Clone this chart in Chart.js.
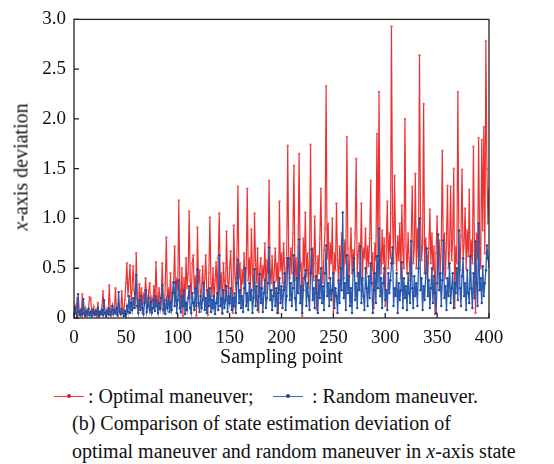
<!DOCTYPE html>
<html>
<head>
<meta charset="utf-8">
<script src="https://cdn.jsdelivr.net/npm/chart.js@4"></script>
<style>
  body { margin: 0; width: 554px; height: 464px; background: #fff; position: relative; overflow: hidden;
         font-family: "Liberation Serif", "Times New Roman", serif; color: #111; }
  #wrap { position: absolute; left: 0; top: 0; width: 554px; height: 375px; }
  #yTitle { position: absolute; left: 21px; top: 167px; transform: translate(-50%, -50%) rotate(-90deg);
            font-size: 20px; white-space: nowrap; }
  .key { position: absolute; top: 396px; width: 30px; height: 0; border-top: 1.5px solid; }
  .key span { position: absolute; left: 13px; top: -3.5px; width: 4px; height: 4px; border-radius: 50%; }
  .ltxt { position: absolute; top: 384px; font-size: 20px; line-height: 24px; white-space: nowrap; }
  #caption { position: absolute; left: 72px; top: 409px; font-size: 20px; line-height: 28px; white-space: nowrap; }
</style>
</head>
<body>
<div id="wrap"><canvas id="chart" width="554" height="375"></canvas></div>
<div id="yTitle"><i>x</i>-axis deviation</div>

<div class="key" style="left:54px; border-color:#ee3b3b;"><span style="background:#e02020"></span></div>
<div class="ltxt" style="left:88px;">: Optimal maneuver;</div>
<div class="key" style="left:273px; border-color:#3a66b8;"><span style="background:#1f4a9a"></span></div>
<div class="ltxt" style="left:312px;">: Random maneuver.</div>

<div id="caption">(b) Comparison of state estimation deviation of<br>optimal maneuver and random maneuver in <i>x</i>-axis state</div>

<script>
// x: sampling point 0..400
const samples = Array.from({ length: 401 }, (_, i) => i);

// optimal maneuver deviation (red)
const optimal = [
  0.05, 0.12, 0.04, 0.20, 0.06, 0.03, 0.08, 0.02, 0.24, 0.07,
  0.03, 0.10, 0.05, 0.02, 0.09, 0.21, 0.20, 0.06, 0.03, 0.11,
  0.04, 0.08, 0.02, 0.15, 0.05, 0.03, 0.07, 0.12, 0.27, 0.04,
  0.06, 0.02, 0.09, 0.05, 0.33, 0.08, 0.03, 0.12, 0.06, 0.10,
  0.30, 0.05, 0.02, 0.14, 0.08, 0.04, 0.27, 0.10, 0.06, 0.18,
  0.35, 0.55, 0.22, 0.38, 0.53, 0.15, 0.30, 0.52, 0.28, 0.10,
  0.65, 0.20, 0.08, 0.34, 0.12, 0.30, 0.05, 0.25, 0.18, 0.40,
  0.22, 0.10, 0.28, 0.35, 0.06, 0.20, 0.15, 0.32, 0.12, 0.56,
  0.25, 0.08, 0.30, 0.18, 0.10, 0.55, 0.22, 0.05, 0.35, 0.81,
  0.20, 0.30, 0.12, 0.45, 0.08, 0.25, 0.35, 0.72, 0.18, 0.40,
  0.28, 1.18, 0.35, 0.10, 0.50, 0.02, 0.40, 0.15, 0.60, 0.30,
  0.45, 1.07, 0.38, 0.20, 0.55, 0.63, 0.25, 0.42, 0.02, 0.91,
  0.35, 0.48, 0.15, 0.30, 0.52, 0.20, 0.40, 0.63, 0.28, 0.03,
  0.45, 1.01, 0.35, 0.22, 0.50, 0.15, 0.38, 0.56, 0.25, 0.60,
  1.05, 0.30, 0.45, 0.04, 0.55, 0.35, 0.20, 0.87, 0.40, 0.25,
  0.50, 0.67, 0.30, 0.05, 0.93, 0.45, 0.28, 0.60, 1.32, 0.40,
  0.55, 0.20, 0.48, 0.35, 0.65, 0.25, 0.50, 1.30, 0.38, 0.60,
  0.30, 0.89, 0.45, 0.22, 1.05, 0.55, 0.35, 0.70, 0.06, 0.48,
  0.60, 0.30, 0.52, 0.40, 0.75, 0.25, 0.58, 0.45, 1.38, 0.50,
  0.35, 0.62, 0.28, 0.45, 0.70, 0.38, 0.55, 0.05, 1.17, 0.48,
  0.65, 0.35, 0.75, 0.50, 0.28, 0.60, 1.73, 0.55, 0.40, 0.70,
  0.45, 0.85, 1.53, 0.38, 0.60, 0.30, 0.72, 1.65, 0.48, 0.55,
  0.02, 0.80, 0.50, 1.06, 0.42, 0.65, 0.30, 0.58, 1.74, 0.45,
  0.70, 0.38, 1.02, 0.55, 0.08, 0.62, 0.45, 0.80, 1.30, 0.50,
  0.35, 0.68, 0.90, 2.33, 0.60, 0.95, 0.40, 0.75, 0.55, 1.00,
  0.06, 0.65, 0.48, 1.15, 0.58, 0.35, 0.72, 0.45, 0.85, 0.62,
  0.40, 0.78, 0.55, 1.82, 0.70, 0.38, 0.62, 0.90, 0.45, 0.68,
  0.50, 0.85, 1.60, 0.42, 0.65, 0.75, 0.55, 1.15, 0.38, 0.70,
  0.60, 0.90, 0.45, 0.72, 0.52, 0.80, 1.38, 0.48, 0.65, 0.10,
  0.75, 0.58, 1.85, 0.62, 2.27, 0.70, 0.45, 0.88, 0.55, 0.80,
  0.12, 0.72, 1.17, 0.50, 0.85, 0.60, 2.93, 1.05, 0.55, 1.43,
  0.70, 0.48, 0.82, 0.58, 0.95, 0.40, 1.13, 0.65, 0.50, 2.00,
  0.72, 0.45, 0.85, 0.60, 0.38, 0.78, 1.32, 0.55, 0.70, 1.45,
  0.50, 0.90, 0.62, 2.64, 1.00, 0.58, 0.75, 2.15, 0.45, 0.80,
  0.62, 0.40, 0.70, 1.09, 0.55, 0.85, 0.48, 0.72, 0.04, 0.65,
  1.02, 0.55, 0.78, 0.45, 0.70, 1.68, 0.60, 0.85, 0.40, 0.75,
  1.33, 0.50, 0.68, 1.32, 0.58, 0.80, 1.50, 0.10, 0.72, 0.55,
  2.27, 0.65, 0.48, 0.82, 1.49, 0.60, 0.75, 1.10, 0.50, 0.88,
  0.62, 1.29, 0.45, 0.78, 0.55, 1.72, 0.68, 0.05, 0.85, 0.60,
  1.81, 0.72, 0.50, 1.79, 0.88, 1.92, 0.65, 2.78, 1.50, 0.95,
  1.30
];

// random maneuver deviation (blue)
const random = [
  0.03, 0.10, 0.05, 0.02, 0.24, 0.06, 0.03, 0.08, 0.04, 0.19,
  0.05, 0.02, 0.07, 0.04, 0.09, 0.03, 0.06, 0.02, 0.08, 0.05,
  0.03, 0.07, 0.04, 0.10, 0.02, 0.06, 0.04, 0.08, 0.03, 0.18,
  0.05, 0.02, 0.07, 0.04, 0.09, 0.03, 0.06, 0.12, 0.04, 0.08,
  0.05, 0.10, 0.03, 0.26, 0.06, 0.04, 0.09, 0.05, 0.02, 0.07,
  0.04, 0.12, 0.06, 0.22, 0.05, 0.15, 0.08, 0.20, 0.10, 0.25,
  0.43, 0.12, 0.05, 0.18, 0.08, 0.22, 0.10, 0.04, 0.15, 0.28,
  0.06, 0.12, 0.20, 0.08, 0.16, 0.05, 0.10, 0.18, 0.07, 0.22,
  0.12, 0.05, 0.15, 0.09, 0.20, 0.33, 0.08, 0.14, 0.04, 0.18,
  0.10, 0.22, 0.06, 0.15, 0.08, 0.25, 0.36, 0.12, 0.36, 0.05,
  0.18, 0.38, 0.10, 0.06, 0.22, 0.12, 0.28, 0.04, 0.15, 0.08,
  0.20, 0.32, 0.10, 0.05, 0.25, 0.15, 0.08, 0.30, 0.12, 0.49,
  0.15, 0.06, 0.22, 0.10, 0.18, 0.35, 0.08, 0.20, 0.05, 0.28,
  0.12, 0.30, 0.06, 0.18, 0.10, 0.22, 0.04, 0.15, 0.25, 0.08,
  0.63, 0.12, 0.20, 0.05, 0.28, 0.10, 0.18, 0.32, 0.06, 0.22,
  0.15, 0.30, 0.08, 0.20, 0.12, 0.25, 0.05, 0.35, 0.58, 0.15,
  0.28, 0.10, 0.22, 0.06, 0.30, 0.50, 0.12, 0.25, 0.08, 0.35,
  0.18, 0.28, 0.05, 0.20, 0.49, 0.12, 0.32, 0.08, 0.22, 0.44,
  0.15, 0.30, 0.06, 0.25, 0.38, 0.10, 0.20, 0.35, 0.71, 0.18,
  0.28, 0.08, 0.22, 0.36, 0.12, 0.30, 0.05, 0.25, 0.40, 0.15,
  0.32, 0.10, 0.28, 0.45, 0.08, 0.22, 0.60, 0.60, 0.18, 0.35,
  0.12, 0.30, 0.63, 0.20, 0.08, 0.40, 0.25, 0.79, 0.15, 0.32,
  0.05, 0.28, 0.40, 0.48, 0.12, 0.35, 0.22, 0.08, 0.45, 0.69,
  0.18, 0.30, 0.10, 0.42, 0.25, 0.05, 0.38, 0.20, 0.50, 0.15,
  0.32, 0.08, 0.45, 0.73, 0.22, 0.35, 0.12, 0.40, 0.18, 0.28,
  0.45, 0.10, 0.30, 0.22, 0.05, 0.38, 0.15, 0.50, 0.28, 1.06,
  0.20, 0.35, 0.08, 0.63, 0.25, 0.42, 0.12, 0.30, 0.05, 0.48,
  0.60, 0.18, 0.35, 0.10, 0.45, 0.28, 0.72, 0.15, 0.40, 0.22,
  0.08, 0.50, 0.30, 0.12, 0.42, 0.20, 0.55, 0.35, 0.05, 0.28,
  0.45, 0.15, 0.62, 0.30, 0.90, 0.22, 0.40, 0.10, 0.35, 0.50,
  0.18, 0.28, 0.08, 0.45, 0.25, 0.38, 0.55, 0.71, 0.12, 0.30,
  0.22, 0.45, 0.05, 0.35, 0.18, 0.28, 0.56, 0.10, 0.40, 0.20,
  0.32, 0.08, 0.45, 0.25, 0.15, 0.77, 0.30, 0.10, 0.42, 0.22,
  0.35, 0.12, 0.50, 1.00, 0.28, 0.40, 0.08, 0.32, 0.18, 0.45,
  0.70, 0.22, 0.38, 0.10, 0.30, 0.50, 0.15, 0.42, 0.25, 0.05,
  0.35, 0.84, 0.28, 0.45, 0.12, 0.38, 0.78, 0.20, 0.32, 0.08,
  0.40, 0.22, 0.55, 0.15, 0.30, 0.45, 0.10, 0.35, 0.25, 0.50,
  0.18, 0.88, 0.30, 0.12, 0.42, 0.60, 0.22, 0.35, 0.08, 0.48,
  0.25, 0.15, 0.62, 0.30, 0.10, 0.45, 0.20, 0.77, 0.35, 0.12,
  0.95, 0.28, 0.40, 0.15, 0.52, 0.22, 0.35, 0.48, 0.73, 0.60,
  0.52
];

const serif = '"Liberation Serif", "Times New Roman", serif';
Chart.defaults.font.family = serif;
const tickFont = { family: serif, size: 19 };

// axis box with inward ticks
const frameTicks = {
  id: 'frameTicks',
  afterDraw(chart) {
    const { ctx, chartArea: a, scales: { x, y } } = chart;
    ctx.save();
    ctx.strokeStyle = '#222';
    ctx.lineWidth = 1.3;
    ctx.strokeRect(a.left, a.top, a.right - a.left, a.bottom - a.top);
    ctx.beginPath();
    x.ticks.forEach(t => {
      const px = x.getPixelForValue(t.value);
      ctx.moveTo(px, a.bottom);
      ctx.lineTo(px, a.bottom - 5);
    });
    y.ticks.forEach(t => {
      const py = y.getPixelForValue(t.value);
      ctx.moveTo(a.left, py);
      ctx.lineTo(a.left + 5, py);
    });
    ctx.stroke();
    ctx.restore();
  }
};

function draw() {
  new Chart(document.getElementById('chart'), {
    type: 'line',
    data: {
      datasets: [
        {
          label: 'Random maneuver',
          data: samples.map((s, i) => ({ x: s, y: random[i] })),
          borderColor: '#2a5aae',
          backgroundColor: '#1f4a9a',
          borderWidth: 1.3,
          pointRadius: 1.2,
          pointBorderWidth: 0,
          order: 1
        },
        {
          label: 'Optimal maneuver',
          data: samples.map((s, i) => ({ x: s, y: optimal[i] })),
          borderColor: '#ee3030',
          backgroundColor: '#f06060',
          borderWidth: 1.2,
          pointRadius: 1.2,
          pointBorderWidth: 0,
          order: 2
        }
      ]
    },
    options: {
      responsive: false,
      animation: false,
      devicePixelRatio: 1,
      layout: { padding: { left: 0, right: 65, top: 17, bottom: 0 } },
      plugins: { legend: { display: false }, tooltip: { enabled: false } },
      scales: {
        x: {
          type: 'linear',
          min: 0,
          max: 400,
          grid: { display: false, drawTicks: false },
          border: { display: false },
          ticks: { stepSize: 50, padding: 9, font: tickFont, color: '#111', maxRotation: 0 },
          title: {
            display: true,
            text: 'Sampling point',
            color: '#111',
            font: { family: serif, size: 20 },
            padding: { top: 0, bottom: 5 }
          },
          afterFit(s) { s.height = 57; }
        },
        y: {
          min: 0,
          max: 3,
          grid: { display: false, drawTicks: false },
          border: { display: false },
          ticks: {
            stepSize: 0.5,
            padding: 8,
            font: tickFont,
            color: '#111',
            callback: v => v === 0 ? '0' : v.toFixed(1)
          },
          afterFit(s) { s.width = 74; }
        }
      }
    },
    plugins: [frameTicks]
  });
}

// make sure the serif face is ready before the canvas text is drawn
document.fonts.load('19px "Liberation Serif"').then(draw, draw);
</script>
</body>
</html>
